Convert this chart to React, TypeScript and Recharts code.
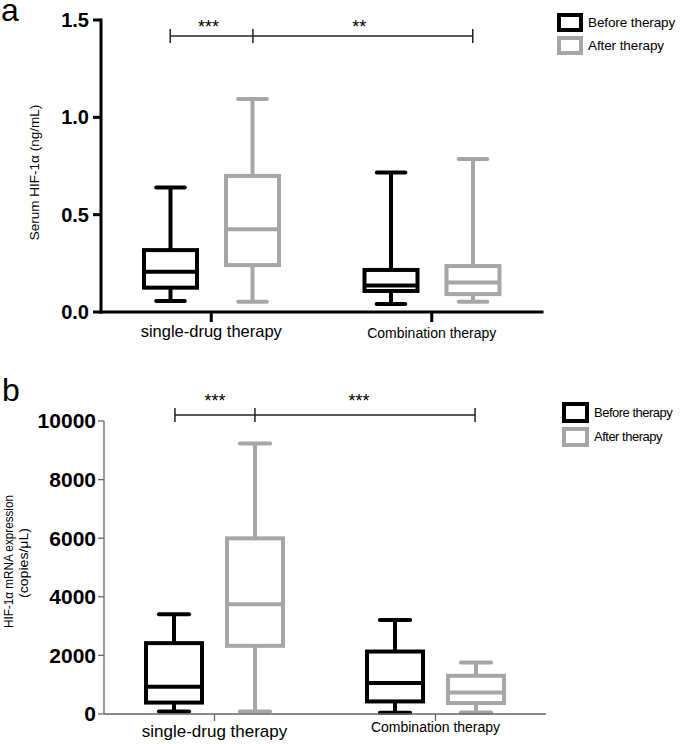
import React from 'react';
import { ComposedChart, Bar, XAxis, YAxis, ReferenceLine, ReferenceDot, Legend } from 'recharts';

const FONT = '"Liberation Sans", Arial, Helvetica, sans-serif';

// Categories and series
const categories = ['single-drug therapy', 'Combination therapy'];
const seriesNames = ['Before therapy', 'After therapy'];
const seriesColors = ['#000000', '#a6a6a6'];

// Box statistics per category: [min, q1, median, q3, max]
const serumBefore = [
  [0.057, 0.125, 0.207, 0.318, 0.639],
  [0.041, 0.108, 0.136, 0.216, 0.716],
];
const serumAfter = [
  [0.053, 0.241, 0.425, 0.699, 1.094],
  [0.053, 0.092, 0.151, 0.236, 0.786],
];
const mrnaBefore = [
  [89, 390, 930, 2418, 3406],
  [40, 429, 1056, 2132, 3212],
];
const mrnaAfter = [
  [89, 2326, 3747, 5995, 9230],
  [55, 375, 736, 1304, 1757],
];

const serumTicks = [0, 0.5, 1.0, 1.5];
const mrnaTicks = [0, 2000, 4000, 6000, 8000, 10000];
const posTicks = [0, 1, 2];

// Significance brackets (x on a 0..2 position axis spanning both categories)
const serumBracketX = [0.314, 0.689, 1.686];
const serumBracketY = 1.418;
const serumStars = [
  { x: 0.487, y: 1.433, text: '***' },
  { x: 1.171, y: 1.433, text: '**' },
];
const mrnaBracketX = [0.321, 0.683, 1.679];
const mrnaBracketY = 10205;
const mrnaStars = [
  { x: 0.502, y: 10478, text: '***' },
  { x: 1.154, y: 10478, text: '***' },
];

function makeRows(before: number[][], after: number[][]) {
  return categories.map((name, i) => ({
    name,
    pos: i + 0.5,
    beforeMax: before[i][4],
    afterMax: after[i][4],
    beforeStats: before[i],
    afterStats: after[i],
  }));
}

const serumRows = makeRows(serumBefore, serumAfter);
const mrnaRows = makeRows(mrnaBefore, mrnaAfter);

function BoxShape(props: any) {
  const { x, y, width, height, payload, statsKey, color } = props;
  const s = payload && payload[statsKey];
  if (!s || !height) return null;
  const base = y + height;
  const py = (v: number) => base - (v / s[4]) * height;
  const cx = x + width / 2;
  const cap = width * 0.27;
  return (
    <g stroke={color} strokeWidth={4} fill="none">
      <line x1={cx} x2={cx} y1={py(s[4])} y2={py(s[3])} />
      <line x1={cx} x2={cx} y1={py(s[1])} y2={py(s[0])} />
      <line x1={cx - cap} x2={cx + cap} y1={py(s[4])} y2={py(s[4])} strokeLinecap="round" />
      <line x1={cx - cap} x2={cx + cap} y1={py(s[0])} y2={py(s[0])} strokeLinecap="round" />
      <rect x={x} y={py(s[3])} width={width} height={py(s[1]) - py(s[3])} fill="#fff" />
      <line x1={x} x2={x + width} y1={py(s[2])} y2={py(s[2])} />
    </g>
  );
}

function LegendBox(p: { fontSize: number; boxW: number; boxH: number; rowH: number; gap: number; border: number; ls: number }) {
  return (
    <div style={{ fontFamily: FONT, fontSize: p.fontSize, color: '#000', letterSpacing: p.ls }}>
      {seriesNames.map((n, i) => (
        <div key={n} style={{ display: 'flex', alignItems: 'center', height: p.rowH }}>
          <div
            style={{
              width: p.boxW,
              height: p.boxH,
              boxSizing: 'border-box',
              border: `${p.border}px solid ${seriesColors[i]}`,
              marginRight: p.gap,
              flex: 'none',
            }}
          />
          <span style={{ whiteSpace: 'nowrap' }}>{n}</span>
        </div>
      ))}
    </div>
  );
}

function makeCatTick(sizes: number[], dys: number[]) {
  return (props: any) => {
    const { x, y, payload, index } = props;
    const i = typeof index === 'number' ? index : categories.indexOf(payload.value);
    return (
      <text x={x} y={y + dys[i]} textAnchor="middle" fontFamily={FONT} fontSize={sizes[i]} fill="#000">
        {payload.value}
      </text>
    );
  };
}

function Brackets(xs: number[], yv: number, half: number, stars: { x: number; y: number; text: string }[], fs: number) {
  const items: any[] = [];
  items.push(
    <ReferenceLine
      key="h"
      xAxisId="pos"
      ifOverflow="visible"
      segment={[{ x: xs[0], y: yv }, { x: xs[xs.length - 1], y: yv }]}
      stroke="#222"
      strokeWidth={1.5}
    />
  );
  xs.forEach((xv, i) => {
    items.push(
      <ReferenceLine
        key={'v' + i}
        xAxisId="pos"
        ifOverflow="visible"
        segment={[{ x: xv, y: yv - half }, { x: xv, y: yv + half }]}
        stroke="#222"
        strokeWidth={1.5}
      />
    );
  });
  stars.forEach((s, i) => {
    items.push(
      <ReferenceDot
        key={'s' + i}
        xAxisId="pos"
        x={s.x}
        y={s.y}
        r={1}
        ifOverflow="visible"
        shape={(p: any) => (
          <text x={p.cx} y={p.cy} textAnchor="middle" fontFamily={FONT} fontSize={fs} fill="#000">
            {s.text}
          </text>
        )}
      />
    );
  });
  return items;
}

export default function App() {
  const serumTick = makeCatTick([16.5, 14], [15, 16]);
  const mrnaTick = makeCatTick([17, 14], [16, 11]);
  return (
    <div style={{ position: 'relative', width: 685, height: 744, fontFamily: FONT, background: '#fff' }}>
      <style>{'body{margin:0;background:#fff}'}</style>
      <div style={{ position: 'absolute', left: 0, top: 0 }}>
        <ComposedChart
          width={685}
          height={350}
          data={serumRows}
          margin={{ top: 20, right: 143, bottom: 0, left: 0 }}
          barGap={29}
        >
          <XAxis
            dataKey="name"
            xAxisId={0}
            height={38}
            tickSize={10}
            tickMargin={0}
            interval={0}
            axisLine={{ stroke: '#000', strokeWidth: 3, strokeLinecap: 'square' }}
            tickLine={{ stroke: '#000', strokeWidth: 3 }}
            tick={serumTick}
          />
          <XAxis
            xAxisId="pos"
            dataKey="pos"
            type="number"
            domain={[0, 2]}
            ticks={posTicks}
            allowDataOverflow
            hide
          />
          <YAxis
            domain={[0, 1.5]}
            ticks={serumTicks}
            interval={0}
            width={101}
            tickSize={8}
            tickMargin={4}
            tickFormatter={(v: number) => v.toFixed(1)}
            axisLine={{ stroke: '#000', strokeWidth: 3, strokeLinecap: 'square' }}
            tickLine={{ stroke: '#000', strokeWidth: 3 }}
            tick={{ fill: '#000', fontSize: 20, fontWeight: 'bold', fontFamily: FONT }}
            label={{
              content: () => (
                <text
                  x={39}
                  y={172.5}
                  transform="rotate(-90 39 172.5)"
                  textAnchor="middle"
                  fontFamily={FONT}
                  fontSize={13.5}
                  fill="#000"
                >
                  Serum HIF-1α (ng/mL)
                </text>
              ),
            }}
          />
          <Bar
            dataKey="beforeMax"
            name={seriesNames[0]}
            barSize={53}
            fill="none"
            stroke={seriesColors[0]}
            isAnimationActive={false}
            shape={(p: any) => <BoxShape {...p} statsKey="beforeStats" color={seriesColors[0]} />}
          />
          <Bar
            dataKey="afterMax"
            name={seriesNames[1]}
            barSize={53}
            fill="none"
            stroke={seriesColors[1]}
            isAnimationActive={false}
            shape={(p: any) => <BoxShape {...p} statsKey="afterStats" color={seriesColors[1]} />}
          />
          {Brackets(serumBracketX, serumBracketY, 0.036, serumStars, 18)}
          <Legend
            layout="vertical"
            align="center"
            verticalAlign="middle"
            wrapperStyle={{ left: 557, top: 11, width: 128 }}
            content={() => <LegendBox fontSize={13.5} boxW={26} boxH={19.5} rowH={23} gap={5} border={4.5} ls={-0.1} />}
          />
        </ComposedChart>
      </div>
      <div style={{ position: 'absolute', left: 0, top: 350 }}>
        <ComposedChart
          width={685}
          height={394}
          data={mrnaRows}
          margin={{ top: 71, right: 139, bottom: 0, left: 0 }}
          barGap={25}
        >
          <XAxis
            dataKey="name"
            xAxisId={0}
            height={30}
            tickSize={7}
            tickMargin={0}
            interval={0}
            axisLine={{ stroke: '#666', strokeWidth: 1.3 }}
            tickLine={{ stroke: '#666', strokeWidth: 1.3 }}
            tick={mrnaTick}
          />
          <XAxis
            xAxisId="pos"
            dataKey="pos"
            type="number"
            domain={[0, 2]}
            ticks={posTicks}
            allowDataOverflow
            hide
          />
          <YAxis
            domain={[0, 10000]}
            ticks={mrnaTicks}
            interval={0}
            width={104}
            tickSize={6}
            tickMargin={2}
            axisLine={{ stroke: '#666', strokeWidth: 1.3 }}
            tickLine={{ stroke: '#666', strokeWidth: 1.3 }}
            tick={{ fill: '#000', fontSize: 21, fontWeight: 'bold', fontFamily: FONT }}
            label={{
              content: () => (
                <g fontFamily={FONT} fontSize={13} fill="#000">
                  <text
                    x={12.5}
                    y={211.5}
                    transform="rotate(-90 12.5 211.5)"
                    textAnchor="middle"
                    textLength={133}
                    lengthAdjust="spacingAndGlyphs"
                  >
                    HIF-1α mRNA expression
                  </text>
                  <text
                    x={28}
                    y={213}
                    transform="rotate(-90 28 213)"
                    textAnchor="middle"
                    textLength={70}
                    lengthAdjust="spacingAndGlyphs"
                  >
                    (copies/μL)
                  </text>
                </g>
              ),
            }}
          />
          <Bar
            dataKey="beforeMax"
            name={seriesNames[0]}
            barSize={56}
            fill="none"
            stroke={seriesColors[0]}
            isAnimationActive={false}
            shape={(p: any) => <BoxShape {...p} statsKey="beforeStats" color={seriesColors[0]} />}
          />
          <Bar
            dataKey="afterMax"
            name={seriesNames[1]}
            barSize={56}
            fill="none"
            stroke={seriesColors[1]}
            isAnimationActive={false}
            shape={(p: any) => <BoxShape {...p} statsKey="afterStats" color={seriesColors[1]} />}
          />
          {Brackets(mrnaBracketX, mrnaBracketY, 238, mrnaStars, 18)}
          <Legend
            layout="vertical"
            align="center"
            verticalAlign="middle"
            wrapperStyle={{ left: 561.5, top: 50, width: 124 }}
            content={() => <LegendBox fontSize={13} boxW={27} boxH={20.5} rowH={24.5} gap={5.5} border={4.5} ls={-0.5} />}
          />
        </ComposedChart>
      </div>
      <svg width={685} height={744} style={{ position: 'absolute', left: 0, top: 0, pointerEvents: 'none' }}>
        <text x={1} y={21} fontFamily={FONT} fontSize={32} fill="#000">a</text>
        <text x={2} y={401} fontFamily={FONT} fontSize={32} fill="#000">b</text>
      </svg>
    </div>
  );
}
